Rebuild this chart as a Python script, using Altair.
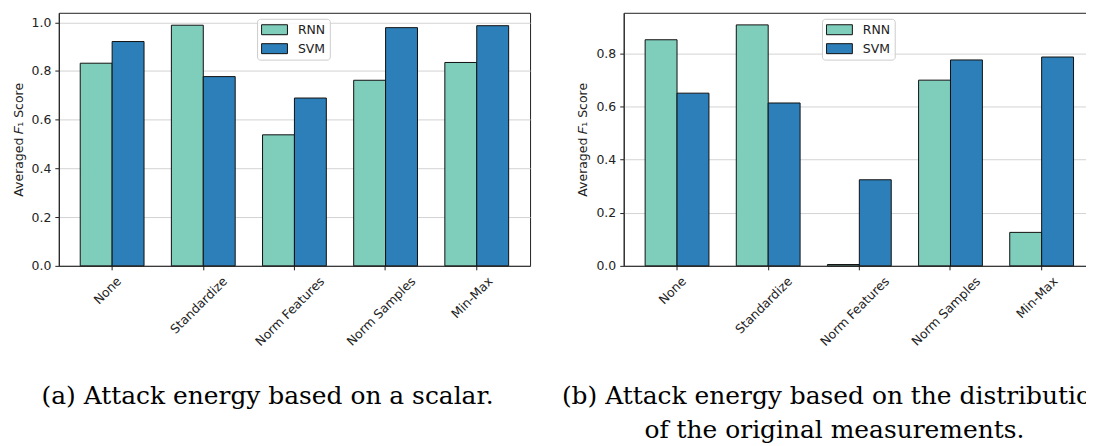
import altair as alt
import pandas as pd

methods = ["None", "Standardize", "Norm Features", "Norm Samples", "Min-Max"]
models = ["RNN", "SVM"]
rnn_a = [0.832, 0.988, 0.538, 0.762, 0.835]
svm_a = [0.921, 0.777, 0.689, 0.978, 0.986]
rnn_b = [0.851, 0.907, 0.005, 0.699, 0.126]
svm_b = [0.650, 0.613, 0.324, 0.775, 0.786]
y_ticks_a = [0.0, 0.2, 0.4, 0.6, 0.8, 1.0]
y_ticks_b = [0.0, 0.2, 0.4, 0.6, 0.8]
caption_a = "(a) Attack energy based on a scalar."
caption_b = ["(b) Attack energy based on the distribution", "of the original measurements."]
y_title = "Averaged \U0001D439\u2081 Score"
colors = ["#7fcdbb", "#2c7fb8"]

# shift of each rotated label so that its box is centred under the tick
label_shift = {"None": 7, "Standardize": 22, "Norm Features": 28, "Norm Samples": 28, "Min-Max": 14}
shift_expr = " : ".join(f"datum.label == '{k}' ? {v}" for k, v in label_shift.items()) + " : 0"


def frame(rnn, svm):
    rows = []
    for m, r, s in zip(methods, rnn, svm):
        rows.append({"method": m, "model": "RNN", "score": r})
        rows.append({"method": m, "model": "SVM", "score": s})
    return pd.DataFrame(rows)


def panel(df, ymax, yticks, caption, dx):
    return alt.Chart(
        df,
        width=473,
        height=254,
        title=alt.TitleParams(
            caption, orient="bottom", anchor="middle", frame="group", dx=dx, offset=36,
            font="DejaVu Serif", fontSize=25, fontWeight="normal", color="black", lineHeight=34,
        ),
    ).mark_bar(stroke="#111111", strokeWidth=1).encode(
        x=alt.X(
            "method:N", sort=methods,
            scale=alt.Scale(paddingInner=0.3, paddingOuter=0.235),
            axis=alt.Axis(
                title=None, labelAngle=-45, labelAlign="right", labelBaseline="middle",
                labelOffset={"expr": shift_expr}, labelPadding=9, tickSize=4, grid=False,
            ),
        ),
        xOffset=alt.XOffset("model:N", sort=models, scale=alt.Scale(paddingInner=0, paddingOuter=0)),
        y=alt.Y(
            "score:Q",
            scale=alt.Scale(domain=[0, ymax], nice=False, zero=True),
            axis=alt.Axis(title=y_title, values=yticks, format=".1f", tickSize=4,
                          labelPadding=4, titlePadding=6, grid=True),
        ),
        color=alt.Color(
            "model:N", sort=models,
            scale=alt.Scale(domain=models, range=colors),
            legend=alt.Legend(
                title=None, orient="none", legendX=199, legendY=6,
                symbolType="M-1,-0.385H1V0.385H-1Z", symbolSize=676,
                symbolStrokeColor="#111111", symbolStrokeWidth=1, symbolOpacity=1,
                labelFont="DejaVu Sans", labelFontSize=12.5, labelColor="#222222", labelOffset=10,
                padding=4, rowPadding=5, clipHeight=14,
                fillColor="rgba(255,255,255,0.8)", strokeColor="#cccccc", cornerRadius=3,
            ),
        ),
    )


pa = panel(frame(rnn_a, svm_a), 1.039, y_ticks_a, caption_a, -27)
pb = panel(frame(rnn_b, svm_b), 0.9525, y_ticks_b, caption_b, -25)

chart = (
    alt.hconcat(pa, pb, spacing=94, bounds="flush")
    .resolve_scale(x="independent", y="independent")
    .resolve_legend(color="independent")
    .properties(padding={"left": 3, "top": 3, "right": -22, "bottom": 0})
    .configure(font="DejaVu Sans")
    .configure_view(stroke="#222222", strokeWidth=1)
    .configure_axis(
        domainColor="#222222", tickColor="#222222", labelColor="#222222", titleColor="#222222",
        labelFont="DejaVu Sans", titleFont="DejaVu Sans", labelFontSize=12.5, titleFontSize=12.5,
        titleFontWeight="normal", gridColor="#d3d3d3", gridWidth=1, domainWidth=1, tickWidth=1,
    )
)

chart.save("out.html", embed_options={"renderer": "svg", "actions": False})
